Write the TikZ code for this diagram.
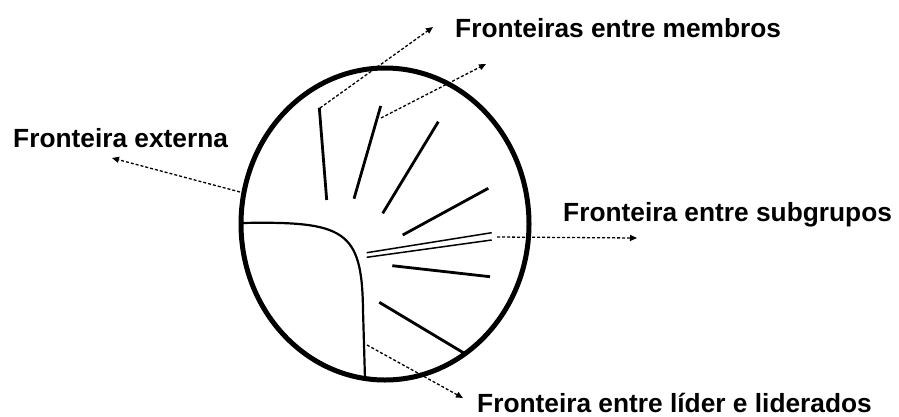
\documentclass[tikz,border=0pt]{standalone}
\usepackage{fontspec}
\setmainfont{Liberation Sans}
\usetikzlibrary{arrows.meta}
\tikzset{
  lbl/.style={font=\bfseries\fontsize{26.3}{30}\selectfont, inner sep=0pt, anchor=base west},
  boundary/.style={line width=5pt},
  member/.style={line width=2.8pt},
  thinline/.style={line width=1.5pt},
  leader/.style={line width=2.2pt},
  pointer/.style={line width=1.3pt, dash pattern=on 3pt off 2pt, -{Triangle[length=7pt,width=6pt]}}
}
\begin{document}
\begin{tikzpicture}[x=1pt,y=-1pt]
\useasboundingbox (0,0) rectangle (899,416);
% group
\draw[boundary] (385,224) ellipse [x radius=144, y radius=156];
% member boundaries
\coordinate (m1a) at (319.3,107.7); \coordinate (m1b) at (326.7,200);
\coordinate (m2a) at (380.7,106);   \coordinate (m2b) at (354,198.7);
\coordinate (m3a) at (438.3,121.7); \coordinate (m3b) at (382.7,213.3);
\coordinate (m4a) at (488.3,188.3); \coordinate (m4b) at (402.7,235);
\coordinate (m6a) at (392.3,265.7); \coordinate (m6b) at (490,276.7);
\coordinate (m7a) at (379.3,302.3); \coordinate (m7b) at (463.3,352.7);
\draw[member] (m1a) -- (m1b);
\draw[member] (m2a) -- (m2b);
\draw[member] (m3a) -- (m3b);
\draw[member] (m4a) -- (m4b);
\draw[member] (m6a) -- (m6b);
\draw[member] (m7a) -- (m7b);
% subgroup boundary (double)
\coordinate (s1a) at (491.7,232.7); \coordinate (s1b) at (366.7,252.7);
\coordinate (s2a) at (491.7,240);   \coordinate (s2b) at (366.7,257.3);
\draw[thinline] (s1a) -- (s1b);
\draw[thinline] (s2a) -- (s2b);
% leader boundary
\coordinate (l0) at (241,223);
\coordinate (l1) at (363,310);
\coordinate (l2) at (365,379);
\draw[leader] (l0) .. controls (345,221) and (362,230) .. (l1) -- (l2);
% labels
\node[lbl] (tm) at (455,37) {Fronteiras entre membros};
\node[lbl] (te) at (13,147) {Fronteira externa};
\node[lbl] (ts) at (563,221) {Fronteira entre subgrupos};
\node[lbl] (tl) at (477,412) {Fronteira entre líder e liderados};
% pointers
\coordinate (pm1s) at (320,108);  \coordinate (pm1e) at (433,27);
\coordinate (pm2s) at (381,118);  \coordinate (pm2e) at (486,64);
\coordinate (pes) at (240,192);   \coordinate (pee) at (112,158);
\coordinate (pss) at (497,237);   \coordinate (pse) at (637,238);
\coordinate (pls) at (367,345);   \coordinate (ple) at (463,398);
\draw[pointer] (pm1s) -- (pm1e);
\draw[pointer] (pm2s) -- (pm2e);
\draw[pointer] (pes) -- (pee);
\draw[pointer] (pss) -- (pse);
\draw[pointer] (pls) -- (ple);
\end{tikzpicture}
\end{document}
